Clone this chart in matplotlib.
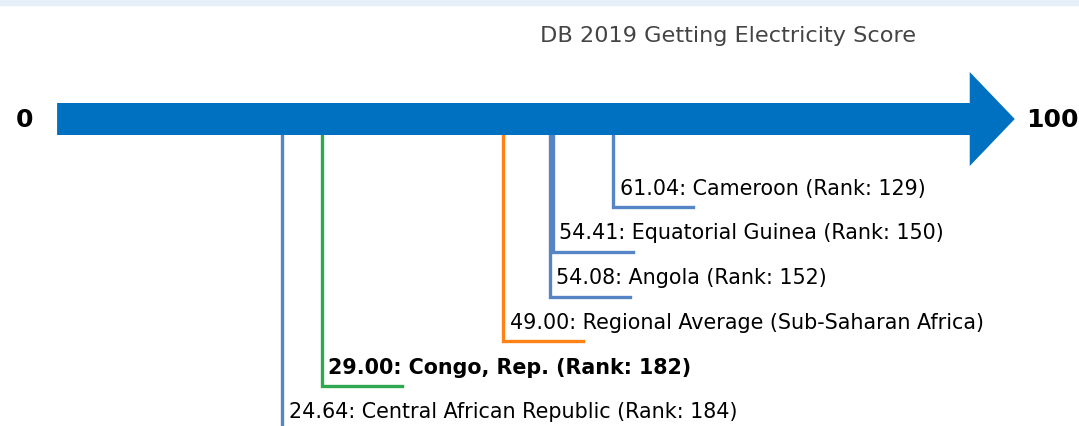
import matplotlib
matplotlib.use("Agg")
import matplotlib.pyplot as plt
from matplotlib.patches import Rectangle

plt.rcParams["font.family"] = ["DejaVu Sans"]

# ---- data ----
names = ["Cameroon", "Equatorial Guinea", "Angola",
         "Regional Average (Sub-Saharan Africa)", "Congo, Rep.",
         "Central African Republic"]
scores = [61.04, 54.41, 54.08, 49.00, 29.00, 24.64]
ranks = [129, 150, 152, None, 182, 184]
kinds = ["peer", "peer", "peer", "avg", "focus", "peer"]
title = "DB 2019 Getting Electricity Score"
scale_min, scale_max = 0, 100

colors = {"peer": "#5585c5", "avg": "#ff8217", "focus": "#2fa84f"}
arrow_color = "#0070c0"

W, H = 1079, 426
fig = plt.figure(figsize=(W / 100, H / 100), dpi=100)
ax = fig.add_axes([0, 0, 1, 1])
px_per_unit = 9.09
x0px = 58
ax.set_xlim((0 - x0px) / px_per_unit, (W - x0px) / px_per_unit)
ax.set_ylim(H, 0)
ax.axis("off")

# top light band
fig.patches.append(Rectangle((0, 1 - 5 / H), 1, 5 / H, transform=fig.transFigure,
                             color="#e4eff9", zorder=0))

# arrow
body_top, body_bot = 103, 135
head_top, head_bot = 72, 166
mid = (body_top + body_bot) / 2
head_len = 45 / px_per_unit
xs = [scale_min - 0.1, scale_max + 0.3, scale_max + 0.3, scale_max + 0.3 + head_len,
      scale_max + 0.3, scale_max + 0.3, scale_min - 0.1]
ys = [body_top, body_top, head_top, mid, head_bot, body_bot, body_bot]
ax.fill(xs, ys, color=arrow_color, lw=0, zorder=3)

ax.text(scale_min - 3.7, mid + 1, str(scale_min), ha="center", va="center",
        fontsize=18, fontweight="bold", color="black")
ax.text(scale_max + 9.4, mid + 1, str(scale_max), ha="center", va="center",
        fontsize=18, fontweight="bold", color="black")
ax.text(73.75, 36, title, ha="center", va="center", fontsize=16.1, color="#444444")

# markers
seg_len = 80 / px_per_unit
for i, (n, s, r, k) in enumerate(zip(names, scores, ranks, kinds)):
    level = 207 + 44.8 * i
    c = colors[k]
    ax.plot([s, s, s + seg_len], [body_bot, level, level], color=c, lw=2.4,
            solid_joinstyle="miter", zorder=2)
    label = f"{s:.2f}: {n}" + (f" (Rank: {r})" if r is not None else "")
    ax.text(s + 0.75, level - 18.5, label, ha="left", va="center", fontsize=14.9,
            color="black", fontweight="bold" if k == "focus" else "normal")

fig.savefig("out.png", dpi=100)
